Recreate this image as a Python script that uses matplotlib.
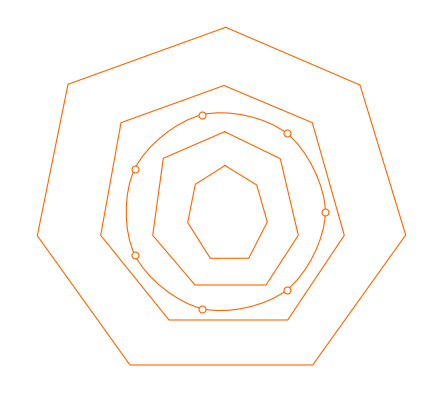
import numpy as np
import matplotlib
matplotlib.use('Agg')
import matplotlib.pyplot as plt
from matplotlib.path import Path
from matplotlib.patches import PathPatch

# ring vertices (pixel units, y down)
ring1_x = [225.7, 360.0, 405.7, 312.7, 130.0, 37.3, 68.0]
ring1_y = [27.3, 85.0, 235.0, 365.0, 365.0, 235.7, 84.3]
ring2_x = [224.0, 312.3, 344.3, 287.7, 169.0, 100.7, 121.0]
ring2_y = [85.5, 122.7, 235.3, 320.0, 320.0, 235.3, 122.7]
ring3_x = [224.7, 280.3, 298.3, 266.0, 195.0, 152.7, 163.3]
ring3_y = [131.7, 158.7, 235.3, 285.0, 285.0, 235.3, 158.3]
ring4_x = [225.0, 256.7, 267.3, 248.7, 210.3, 187.7, 195.3]
ring4_y = [165.5, 185.0, 222.0, 258.3, 258.3, 222.5, 184.3]

# smooth series points
pts_x = [325.3, 286.7, 202.3, 134.7, 134.7, 202.3, 286.7]
pts_y = [212.0, 290.0, 308.7, 254.7, 169.0, 114.7, 133.3]

col = '#ff6600'

fig = plt.figure(figsize=(4.38, 4.03), dpi=100)
ax = fig.add_axes([0, 0, 1, 1])
ax.set_xlim(0, 438)
ax.set_ylim(403, 0)
ax.axis('off')

for rx, ry in [(ring1_x, ring1_y), (ring2_x, ring2_y),
               (ring3_x, ring3_y), (ring4_x, ring4_y)]:
    ax.plot(rx + rx[:1], ry + ry[:1], color=col, lw=0.8)

# closed catmull-rom curve as bezier path
p = np.column_stack([pts_x, pts_y])
n = len(p)
verts = [p[0]]
codes = [Path.MOVETO]
for i in range(n):
    p0, p1, p2, p3 = p[i - 1], p[i], p[(i + 1) % n], p[(i + 2) % n]
    c1 = p1 + (p2 - p0) / 6
    c2 = p2 - (p3 - p1) / 6
    verts += [c1, c2, p2]
    codes += [Path.CURVE4] * 3
ax.add_patch(PathPatch(Path(verts, codes), fill=False, edgecolor=col, lw=0.8))

ax.plot(pts_x, pts_y, ls='none', marker='o', ms=5, mfc='white',
        mec=col, mew=0.8)

fig.savefig('out.png', dpi=100)
